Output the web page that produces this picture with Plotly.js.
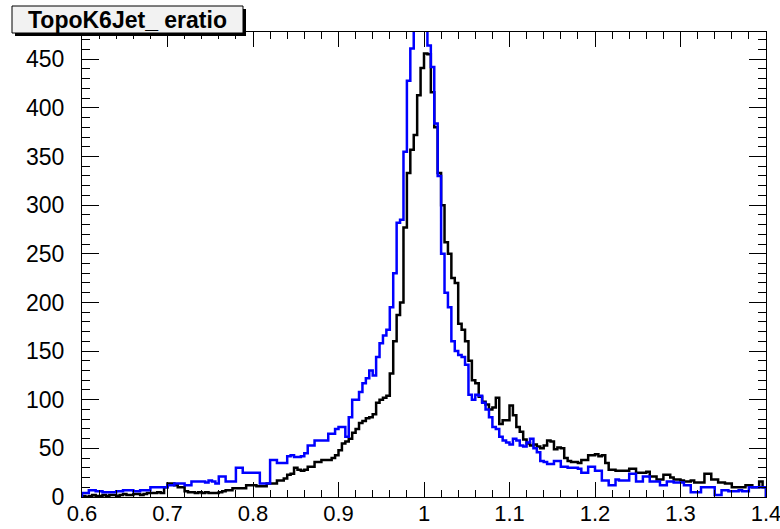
<!DOCTYPE html>
<html>
<head>
<meta charset="utf-8">
<script src="https://cdn.plot.ly/plotly-3.0.1.min.js"></script>
<style>
  html, body { margin: 0; padding: 0; background: #ffffff; }
  #chart { width: 780px; height: 529px; }
</style>
</head>
<body>
<div id="chart"></div>
<script>
// ---- data ----
const histTitle = "TopoK6Jet_ eratio";
const binLow = 0.6;
const binWidth = 0.004;

const blackCounts = [
  1,0,1,2,1,1,2,1,2,2, 1,2,3,2,2,3,3,2,3,4,
  4,4,5,4,10,14,14,12,10,10, 6,5,5,4,5,4,5,4,4,4,
  5,6,7,7,9,9,9,9,12,12, 12,11,11,11,14,14,14,17,17,19,
  23,24,30,28,27,28,31,31,36,36, 38,38,38,40,43,48,55,57,60,66,
  70,76,78,81,82,85,97,100,102,104, 127,160,187,200,277,333,357,372,413,441,
  456,455,416,380,333,300,262,250,225,220, 178,172,160,140,120,117,103,98,95,90,
  92,102,75,79,79,94,84,72,67,59, 55,53,54,52,50,53,58,57,49,51,
  50,40,37,36,36,35,38,38,43,43, 44,42,43,35,28,28,27,27,27,27,
  29,29,25,25,25,26,21,21,18,18, 23,23,20,18,18,17,16,16,17,15,
  15,15,24,24,18,18,15,15,14,14, 10,10,10,10,12,12,10,10,16,10
];

const blueCounts = [
  4,4,7,7,6,6,5,5,5,5, 6,6,7,7,7,6,6,7,7,7,
  10,10,10,10,10,12,12,14,14,14, 12,12,16,16,16,16,15,17,16,14,
  21,21,16,16,16,30,30,25,25,25, 25,25,14,14,14,38,38,35,35,35,
  42,43,41,41,42,45,53,53,58,58, 58,58,65,65,70,72,72,62,82,100,
  100,108,117,122,130,125,144,158,166,172, 195,230,282,285,355,428,461,490,510,520,
  515,464,442,384,330,250,210,195,160,150, 146,144,136,105,100,105,104,97,90,82,
  72,70,62,58,56,54,60,58,53,52, 56,60,50,46,37,36,34,34,37,37,
  31,31,30,30,30,29,25,25,31,31, 27,27,17,17,12,12,18,17,17,17,
  24,24,16,16,21,21,16,16,16,12, 12,16,16,15,15,15,12,12,5,5,
  5,10,10,10,10,2,2,7,7,6, 6,6,7,6,6,10,10,10,10,10
];

const xTickVals = [0.6, 0.7, 0.8, 0.9, 1.0, 1.1, 1.2, 1.3, 1.4];
const xTickText = ["0.6", "0.7", "0.8", "0.9", "1", "1.1", "1.2", "1.3", "1.4"];
const yTickVals = [0, 50, 100, 150, 200, 250, 300, 350, 400, 450];

// ---- build step outlines from bins ----
function stepOutline(counts) {
  const xs = [binLow], ys = [0];
  for (let i = 0; i < counts.length; i++) {
    xs.push(binLow + i * binWidth);
    ys.push(counts[i]);
  }
  const xEnd = binLow + counts.length * binWidth;
  xs.push(xEnd); ys.push(counts[counts.length - 1]);
  xs.push(xEnd); ys.push(0);
  return { x: xs, y: ys };
}

const b = stepOutline(blackCounts);
const u = stepOutline(blueCounts);

const traces = [
  { type: 'scatter', mode: 'lines', x: b.x, y: b.y,
    line: { shape: 'hv', color: '#000000', width: 2.5 }, hoverinfo: 'skip', showlegend: false },
  { type: 'scatter', mode: 'lines', x: u.x, y: u.y,
    line: { shape: 'hv', color: '#0000ff', width: 2.5 }, hoverinfo: 'skip', showlegend: false }
];

const fontFam = '"Liberation Sans", Arial, Helvetica, sans-serif';

// plot area geometry (pixels) for the title pave
const L = 82, R = 14, T = 32, B = 32, W = 780, H = 529;
const pw = W - L - R, ph = H - T - B;
const px = v => (v - L) / pw;
const py = v => (H - B - v) / ph;

const layout = {
  width: W, height: H,
  margin: { l: L, r: R, t: T, b: B, pad: 0 },
  paper_bgcolor: '#ffffff',
  plot_bgcolor: '#ffffff',
  showlegend: false,
  font: { family: fontFam, color: '#000000', size: 23 },
  xaxis: {
    range: [0.6, 1.4],
    tickmode: 'array', tickvals: xTickVals, ticktext: xTickText,
    ticks: 'inside', ticklen: 15, tickwidth: 1, tickcolor: '#000000',
    minor: { dtick: 0.02, tick0: 0.6, ticks: 'inside', ticklen: 7, tickwidth: 1, tickcolor: '#000000', showgrid: false },
    showline: true, linecolor: '#000000', linewidth: 1, mirror: 'allticks',
    showgrid: false, zeroline: false,
    tickfont: { family: fontFam, size: 22, color: '#000000' },
    ticklabelstandoff: -3,
    ticklabeloverflow: 'allow'
  },
  yaxis: {
    range: [0, 478],
    tickmode: 'array', tickvals: yTickVals,
    ticks: 'inside', ticklen: 17, tickwidth: 1, tickcolor: '#000000',
    minor: { dtick: 10, tick0: 0, ticks: 'inside', ticklen: 8, tickwidth: 1, tickcolor: '#000000', showgrid: false },
    showline: true, linecolor: '#000000', linewidth: 1, mirror: 'allticks',
    showgrid: false, zeroline: false,
    tickfont: { family: fontFam, size: 23, color: '#000000' },
    ticklabelstandoff: 12
  },
  shapes: [
    { type: 'rect', xref: 'paper', yref: 'paper', layer: 'above',
      x0: px(15), x1: px(246), y0: py(36), y1: py(9),
      fillcolor: '#000000', line: { width: 0 } },
    { type: 'rect', xref: 'paper', yref: 'paper', layer: 'above',
      x0: px(12), x1: px(243), y0: py(33), y1: py(6),
      fillcolor: '#f2f2f2', line: { color: '#000000', width: 1 } }
  ],
  annotations: [
    { text: histTitle, xref: 'paper', yref: 'paper',
      x: px(127.5), y: py(20), xanchor: 'center', yanchor: 'middle',
      showarrow: false,
      font: { family: fontFam, size: 23, color: '#000000', weight: 700 } }
  ]
};

Plotly.newPlot('chart', traces, layout, { staticPlot: true, displayModeBar: false });
</script>
</body>
</html>
